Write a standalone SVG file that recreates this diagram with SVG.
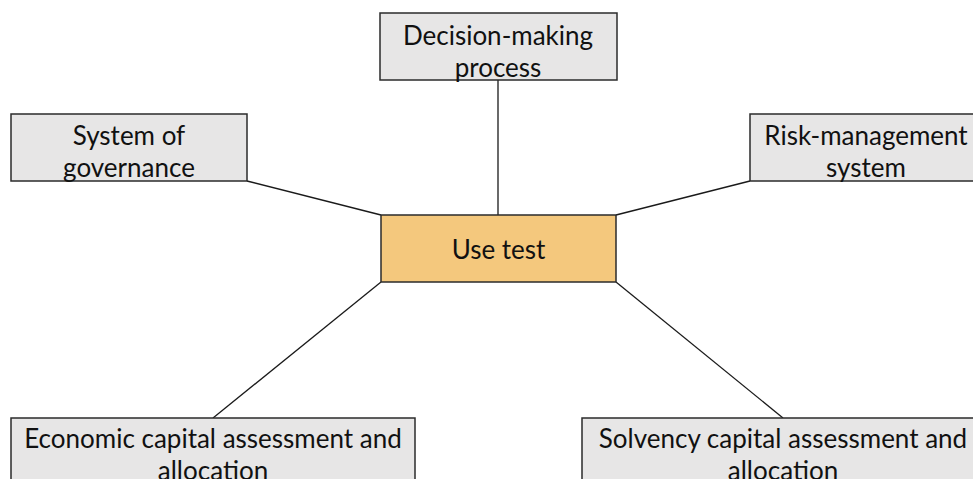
<svg xmlns="http://www.w3.org/2000/svg" width="973" height="479" viewBox="0 0 973 479">
  <style>
    .box { fill: #e7e6e6; stroke: #2b2b2b; stroke-width: 1.5; }
    .hub { fill: #f4c87d; stroke: #2b2b2b; stroke-width: 1.5; }
    .lbl { font-family: Lato, "Open Sans", "Liberation Sans", sans-serif; font-size: 26px; fill: #111; text-anchor: middle; }
    .link { stroke: #1a1a1a; stroke-width: 1.3; fill: none; }
  </style>
  <rect width="973" height="479" fill="#ffffff"/>

  <!-- connectors from the central node to each surrounding node -->
  <g id="connectors">
    <line class="link" x1="498" y1="80" x2="498" y2="215"/>
    <line class="link" x1="247" y1="181" x2="381" y2="215"/>
    <line class="link" x1="750" y1="181" x2="616" y2="215"/>
    <line class="link" x1="381" y1="282" x2="213" y2="418"/>
    <line class="link" x1="616" y1="282" x2="783" y2="418"/>
  </g>

  <g id="use-test">
    <rect class="hub" x="381" y="215" width="235" height="67"/>
    <text class="lbl" x="498.5" y="259">Use test</text>
  </g>

  <g id="decision-making">
    <rect class="box" x="380" y="13" width="237" height="67"/>
    <text class="lbl" x="498" y="45">Decision-making</text>
    <text class="lbl" x="498" y="77">process</text>
  </g>

  <g id="governance">
    <rect class="box" x="11" y="114" width="236" height="67"/>
    <text class="lbl" x="129" y="145">System of</text>
    <text class="lbl" x="129" y="177">governance</text>
  </g>

  <g id="risk-management">
    <rect class="box" x="750" y="114" width="236" height="67"/>
    <text class="lbl" x="866" y="145">Risk-management</text>
    <text class="lbl" x="866" y="177">system</text>
  </g>

  <g id="economic-capital">
    <rect class="box" x="11" y="418" width="404" height="80"/>
    <text class="lbl" x="213" y="448">Economic capital assessment and</text>
    <text class="lbl" x="213" y="480">allocation</text>
  </g>

  <g id="solvency-capital">
    <rect class="box" x="582" y="418" width="402" height="80"/>
    <text class="lbl" x="783" y="448">Solvency capital assessment and</text>
    <text class="lbl" x="783" y="480">allocation</text>
  </g>
</svg>
